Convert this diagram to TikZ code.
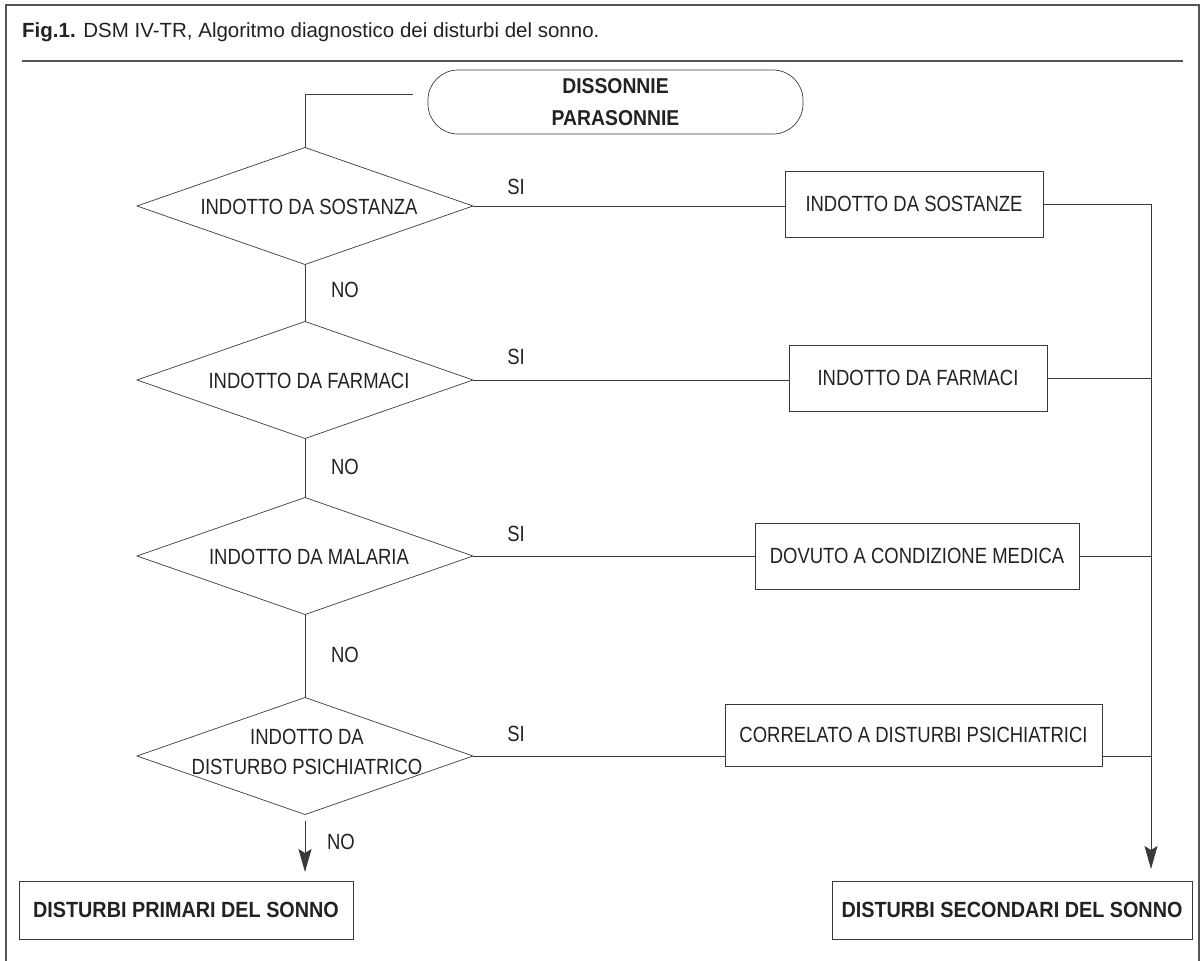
\documentclass[tikz,border=0pt]{standalone}
\usepackage{fontspec}
\setmainfont{Liberation Sans}
\newfontfamily\regf{Liberation Sans}[FakeStretch=0.84]
\newfontfamily\bldf{Liberation Sans}[FakeStretch=0.9]
\usetikzlibrary{shapes.geometric,arrows.meta,calc}
\definecolor{ln}{HTML}{3A3A3A}
\definecolor{fr}{HTML}{555555}
\definecolor{txt}{HTML}{222222}
\tikzset{
  conn/.style={draw=ln, line width=1pt},
  arr/.style={conn, -{Stealth[length=23pt,width=13pt,inset=4pt]}},
  dia/.style={shape=diamond, draw=ln, line width=0.7pt, minimum width=336pt, minimum height=117pt, inner sep=0pt, outer sep=0pt},
  box/.style={draw=ln, line width=1pt, inner sep=0pt, outer sep=0pt, text=txt, font=\regf\fontsize{22}{30}\selectfont},
  bbox/.style={box, font=\bldf\bfseries\fontsize{22}{30}\selectfont},
  startbox/.style={draw=ln, line width=0.7pt, rounded corners=30pt, inner sep=0pt, outer sep=0pt, align=center, text=txt, font=\bldf\bfseries\fontsize{21.5}{32}\selectfont},
  lbl/.style={inner sep=0pt, outer sep=0pt, text=txt, font=\regf\fontsize{22}{30}\selectfont},
  frame/.style={draw=fr, line width=2pt},
}
\begin{document}
\begin{tikzpicture}[x=1pt,y=-1pt]
\useasboundingbox (0,0) rectangle (1202,961);
% frame and title
\draw[frame] (6,965) -- (6,5) -- (1199,5) -- (1199,965);
\draw[frame] (22,61) -- (1183,61);
\node[anchor=base west, inner sep=0pt, text=txt, font=\fontsize{20.5}{24}\selectfont] (title) at (22,37) {{\bfseries Fig.1.} DSM IV-TR, Algoritmo diagnostico dei disturbi del sonno.};
% start
\node[startbox, minimum width=375pt, minimum height=64pt] (start) at (615.5,102) {DISSONNIE\\PARASONNIE};
\coordinate (s0) at (413,94);
% diamonds
\node[dia] (d1) at (305,206) {};
\node[dia] (d2) at (305,380) {};
\node[dia] (d3) at (305,556) {};
\node[dia] (d4) at (305,756) {};
\node[lbl] (t1) at (309,207) {INDOTTO DA SOSTANZA};
\node[lbl] (t2) at (309,381) {INDOTTO DA FARMACI};
\node[lbl] (t3) at (309,557) {INDOTTO DA MALARIA};
\node[lbl, align=center] (t4) at (307,752) {INDOTTO DA\\DISTURBO PSICHIATRICO};
% right boxes
\node[box, minimum width=258pt, minimum height=66pt] (b1) at (914,204) {INDOTTO DA SOSTANZE};
\node[box, minimum width=258pt, minimum height=66pt] (b2) at (918,378) {INDOTTO DA FARMACI};
\node[box, minimum width=324pt, minimum height=66pt] (b3) at (917,556) {DOVUTO A CONDIZIONE MEDICA};
\node[box, minimum width=377pt, minimum height=62pt] (b4) at (913.5,735) {CORRELATO A DISTURBI PSICHIATRICI};
% bottom boxes
\node[bbox, minimum width=334pt, minimum height=58pt] (p1) at (186,910) {DISTURBI PRIMARI DEL SONNO};
\node[bbox, minimum width=360pt, minimum height=58pt] (p2) at (1012,910) {DISTURBI SECONDARI DEL SONNO};
% labels
\node[lbl] (si1) at (516,187) {SI};
\node[lbl] (si2) at (516,357) {SI};
\node[lbl] (si3) at (516,534) {SI};
\node[lbl] (si4) at (516,734) {SI};
\node[lbl] (no1) at (345,290) {NO};
\node[lbl] (no2) at (345,467) {NO};
\node[lbl] (no3) at (345,655) {NO};
\node[lbl] (no4) at (341,842) {NO};
% connectors
\draw[conn] (s0) -| (d1.north);
\draw[conn] (d1.south) -- (d2.north);
\draw[conn] (d2.south) -- (d3.north);
\draw[conn] (d3.south) -- (d4.north);
\coordinate (pa) at ([yshift=9pt]p1.north);
\draw[arr] ([yshift=-6pt]d4.south) -- (d4.south |- pa);
\draw[conn] (d1.east) -- (d1.east -| b1.west);
\draw[conn] (d2.east) -- (d2.east -| b2.west);
\draw[conn] (d3.east) -- (d3.east -| b3.west);
\draw[conn] (d4.east) -- (d4.east -| b4.west);
\coordinate (bus) at (1151,204);
\coordinate (pb) at ([yshift=12pt]p2.north);
\draw[conn] (b1.east) -- (bus);
\draw[conn] (b2.east) -- (b2.east -| bus);
\draw[conn] (b3.east) -- (b3.east -| bus);
\draw[conn] (b4.east |- d4.east) -- (d4.east -| bus);
\draw[arr] (bus) -- (bus |- pb);
\end{tikzpicture}
\end{document}
